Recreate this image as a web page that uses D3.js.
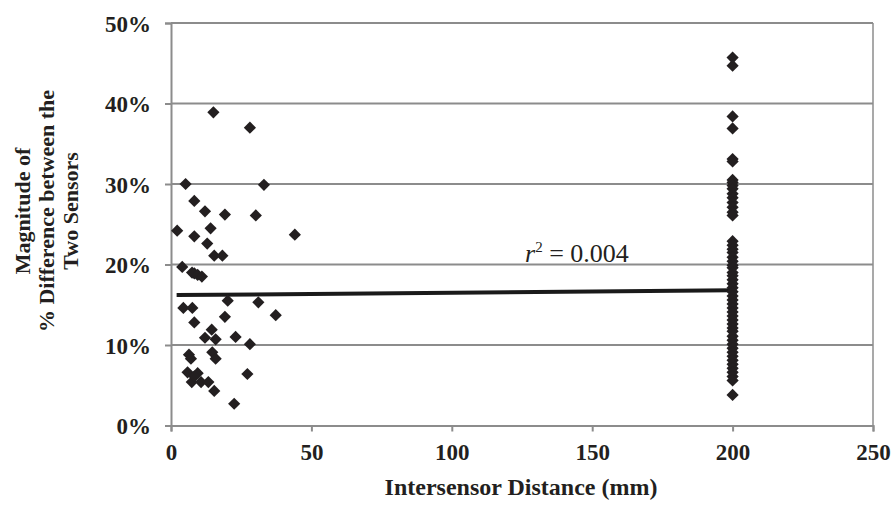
<!DOCTYPE html>
<html>
<head>
<meta charset="utf-8">
<script src="https://cdn.jsdelivr.net/npm/d3@7"></script>
<style>
  body { margin: 0; background: #fff; }
  text { font-family: "Liberation Serif", "Times New Roman", serif; }
</style>
</head>
<body>
<svg width="894" height="521"></svg>
<script>
"use strict";

// distance (mm) of the close sensor pairs
var nearX = [2.2, 5.2, 4.0, 4.4, 8.3, 8.3, 8.3, 7.5, 9.5, 11.0, 12.1, 12.9, 14.1, 15.4, 15.1,
  18.3, 19.2, 28.1, 33.1, 30.2, 44.1, 7.6, 20.2, 19.2, 8.3, 14.5, 12.1, 15.9, 23.0,
  6.4, 7.1, 14.7, 15.9, 5.9, 9.5, 7.4, 10.7, 13.3, 8.3, 15.4, 22.5, 31.1, 37.3,
  28.1, 27.2];
// magnitude of % difference (fraction)
var nearY = [0.242, 0.300, 0.197, 0.146, 0.279, 0.235, 0.189, 0.190, 0.187, 0.185, 0.266, 0.226, 0.245, 0.211, 0.389,
  0.211, 0.262, 0.370, 0.299, 0.261, 0.237, 0.146, 0.155, 0.135, 0.128, 0.119, 0.109, 0.107, 0.110,
  0.088, 0.083, 0.091, 0.083, 0.066, 0.065, 0.054, 0.054, 0.054, 0.061, 0.043, 0.027, 0.153, 0.137,
  0.101, 0.064];

// all pairs at 200 mm
var farY = [0.457, 0.447, 0.384, 0.369, 0.331, 0.328, 0.305, 0.302, 0.298, 0.294, 0.288, 0.283,
  0.277, 0.271, 0.265, 0.261, 0.229, 0.224, 0.219, 0.215, 0.209, 0.204, 0.199, 0.196, 0.19,
  0.186, 0.181, 0.176, 0.171, 0.166, 0.161, 0.156, 0.151, 0.146, 0.141, 0.136, 0.131,
  0.126, 0.121, 0.117, 0.111, 0.106, 0.101, 0.096, 0.091, 0.086, 0.081, 0.076, 0.071,
  0.066, 0.061, 0.056, 0.038];
var farDistance = 200;

// linear trend
var trendX = [2, 200];
var trendY = [0.162, 0.168];

var xTicks = [0, 50, 100, 150, 200, 250];
var yTicks = [0, 0.1, 0.2, 0.3, 0.4, 0.5];

var points = nearX.map((d, i) => ({x: d, y: nearY[i]}))
  .concat(farY.map(v => ({x: farDistance, y: v})));

var svg = d3.select("svg");
var plotLeft = 171, plotRight = 873, plotTop = 23, plotBottom = 425.5;

var x = d3.scaleLinear().domain([0, 250]).range([plotLeft, plotRight]);
var y = d3.scaleLinear().domain([0, 0.5]).range([plotBottom, plotTop]);
var grey = '#8c8c8c';

// gridlines
svg.append("g").selectAll("line")
  .data(yTicks.slice(1))
  .enter()
  .append("line")
  .attr('x1', plotLeft).attr('x2', plotRight)
  .attr('y1', d => y(d)).attr('y2', d => y(d))
  .attr('stroke', grey).attr('stroke-width', 2);

// right edge of plot
svg.append("line")
  .attr('x1', plotRight).attr('x2', plotRight).attr('y1', plotTop).attr('y2', plotBottom)
  .attr('stroke', grey).attr('stroke-width', 1.5);

var yAxis = svg.append("g")
  .attr('transform', 'translate(' + plotLeft + ',0)')
  .call(d3.axisLeft(y).tickValues(yTicks).tickFormat(d3.format('.0%')).tickSize(6).tickPadding(14));
var xAxis = svg.append("g")
  .attr('transform', 'translate(0,' + plotBottom + ')')
  .call(d3.axisBottom(x).tickValues(xTicks).tickSize(6).tickPadding(9));

[yAxis, xAxis].forEach(a => {
  a.selectAll('path, line').attr('stroke', grey).attr('stroke-width', 2);
  a.selectAll('text')
    .attr('fill', '#231f20')
    .style('font-family', '"Liberation Serif", serif')
    .style('font-weight', 'bold')
    .style('font-size', '23px');
});
yAxis.selectAll('text').attr('dy', '0.35em');
xAxis.selectAll('text').attr('dy', '0.85em');

// trend line
svg.append("line")
  .attr('x1', x(trendX[0])).attr('y1', y(trendY[0]))
  .attr('x2', x(trendX[1])).attr('y2', y(trendY[1]))
  .attr('stroke', '#1a1a1a').attr('stroke-width', 4);

// diamonds
svg.append("g").selectAll("path")
  .data(points)
  .enter()
  .append("path")
  .attr('d', d3.symbol().type(d3.symbolDiamond2).size(95))
  .attr('transform', d => 'translate(' + x(d.x) + ',' + y(d.y) + ')')
  .attr('fill', '#231f20');

// r squared label
var r2 = svg.append("text")
  .attr('x', 525).attr('y', 262)
  .style('font-size', '26px')
  .attr('fill', '#231f20');
r2.append('tspan').style('font-style', 'italic').text('r');
r2.append('tspan').attr('dy', -10).style('font-size', '15px').text('2');
r2.append('tspan').attr('dy', 10).text(' = 0.004');

// axis titles
svg.append("text")
  .attr('x', 521).attr('y', 495)
  .attr('text-anchor', 'middle')
  .style('font-size', '24px').style('font-weight', 'bold')
  .attr('fill', '#231f20')
  .text('Intersensor Distance (mm)');

var yTitle = svg.append("text")
  .attr('transform', 'translate(47,211) rotate(-90)')
  .attr('text-anchor', 'middle')
  .style('font-size', '22px').style('font-weight', 'bold')
  .attr('fill', '#231f20');
['Magnitude of', '% Difference between the', 'Two Sensors'].forEach((t, i) => {
  yTitle.append('tspan').attr('x', 0).attr('y', (i - 1) * 24 + 7).text(t);
});
</script>
</body>
</html>
